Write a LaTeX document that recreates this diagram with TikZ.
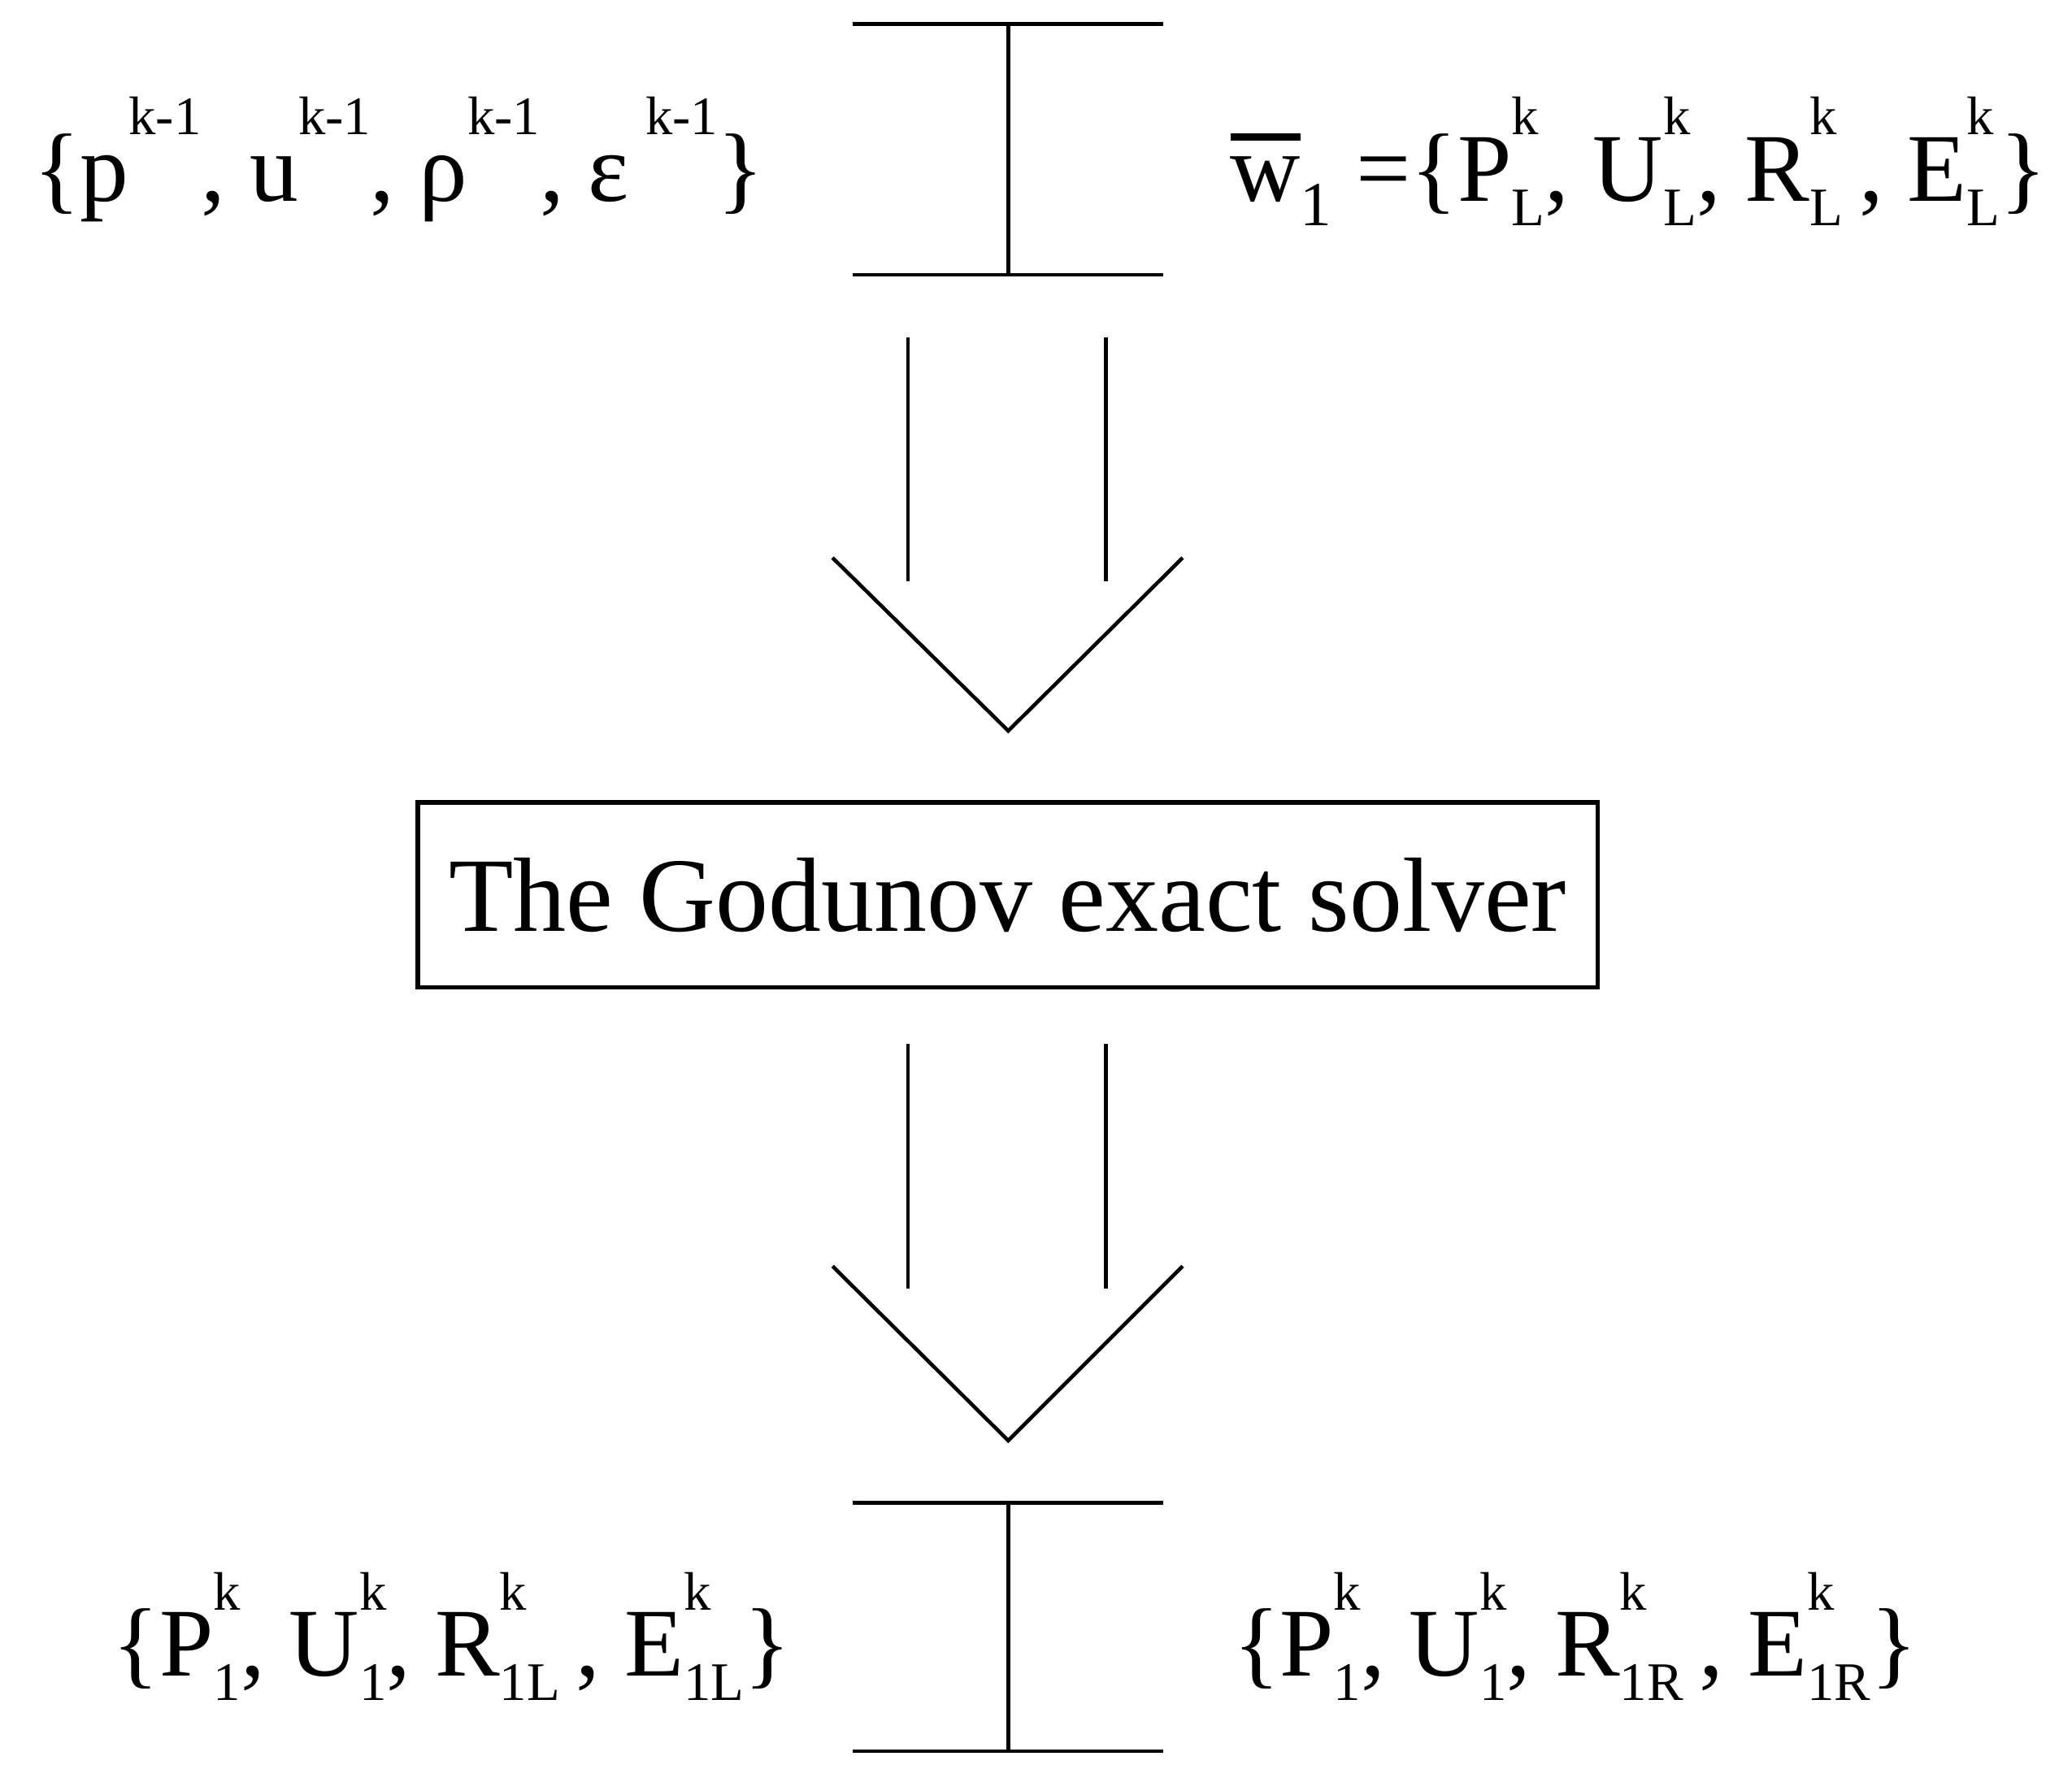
\documentclass[tikz,border=0pt]{standalone}
\usepackage{fontspec}
\setmainfont{Liberation Serif}
\newcommand\supsub[2]{\sbox0{\fontsize{19}{19}\selectfont#1}\sbox2{\fontsize{19}{19}\selectfont#2}\ifdim\wd0>\wd2 \dimen0=\wd0 \else \dimen0=\wd2 \fi\makebox[\dimen0][l]{\rlap{\raisebox{0.68em}{\usebox0}}\raisebox{-0.25em}{\usebox2}}}
\newcommand\thickbarw{\sbox0{w}\rlap{\raisebox{0.62em}{\rule{\wd0}{2.5pt}}}\usebox0}
\begin{document}
\begin{tikzpicture}[x=0.01626cm,y=-0.01626cm,line width=1.3pt,
  txt/.style={inner sep=0pt,font=\fontsize{34}{38}\selectfont}]
\useasboundingbox (0,0) rectangle (1568,1355);
% top I-beam
\coordinate (t1) at (763,18); \coordinate (t2) at (763,208);
\draw (645,18) -- (880,18) (645,208) -- (880,208) (t1) -- (t2);
\node[txt] (inL) at (302,122) {\{p\supsub{k-1}{}, u\supsub{k-1}{}, ρ\supsub{k-1}{}, ε\,\supsub{k-1}{}\}};
\node[txt] (inR) at (1240,122) {\thickbarw\raisebox{-0.25em}{\fontsize{22}{22}\selectfont 1} =\{P\supsub{k}{L}, U\supsub{k}{L}, R\supsub{k}{L}\,, E\supsub{k}{L}\}};
% arrow 1
\draw (687,255) -- (687,440) (837,255) -- (837,440);
\draw (630,422) -- (763,553) -- (895,422);
% box
\node[draw,line width=1.6pt,minimum width=893*0.01626cm,minimum height=140*0.01626cm,font=\fontsize{37}{42}\selectfont,inner sep=0pt] (box) at (762.5,677) {The Godunov exact solver};
% arrow 2
\draw (687,790) -- (687,975) (837,790) -- (837,975);
\draw (630,958) -- (763,1090) -- (895,958);
% bottom I-beam
\coordinate (b1) at (763,1137); \coordinate (b2) at (763,1325);
\draw (645,1137) -- (880,1137) (645,1325) -- (880,1325) (b1) -- (b2);
\node[txt] (outL) at (342,1238) {\{P\supsub{k}{1}, U\supsub{k}{1}, R\supsub{k}{1L}\,, E\supsub{k}{1L}\}};
\node[txt] (outR) at (1192,1238) {\{P\supsub{k}{1}, U\supsub{k}{1}, R\supsub{k}{1R}\,, E\supsub{k}{1R}\}};
\end{tikzpicture}
\end{document}
